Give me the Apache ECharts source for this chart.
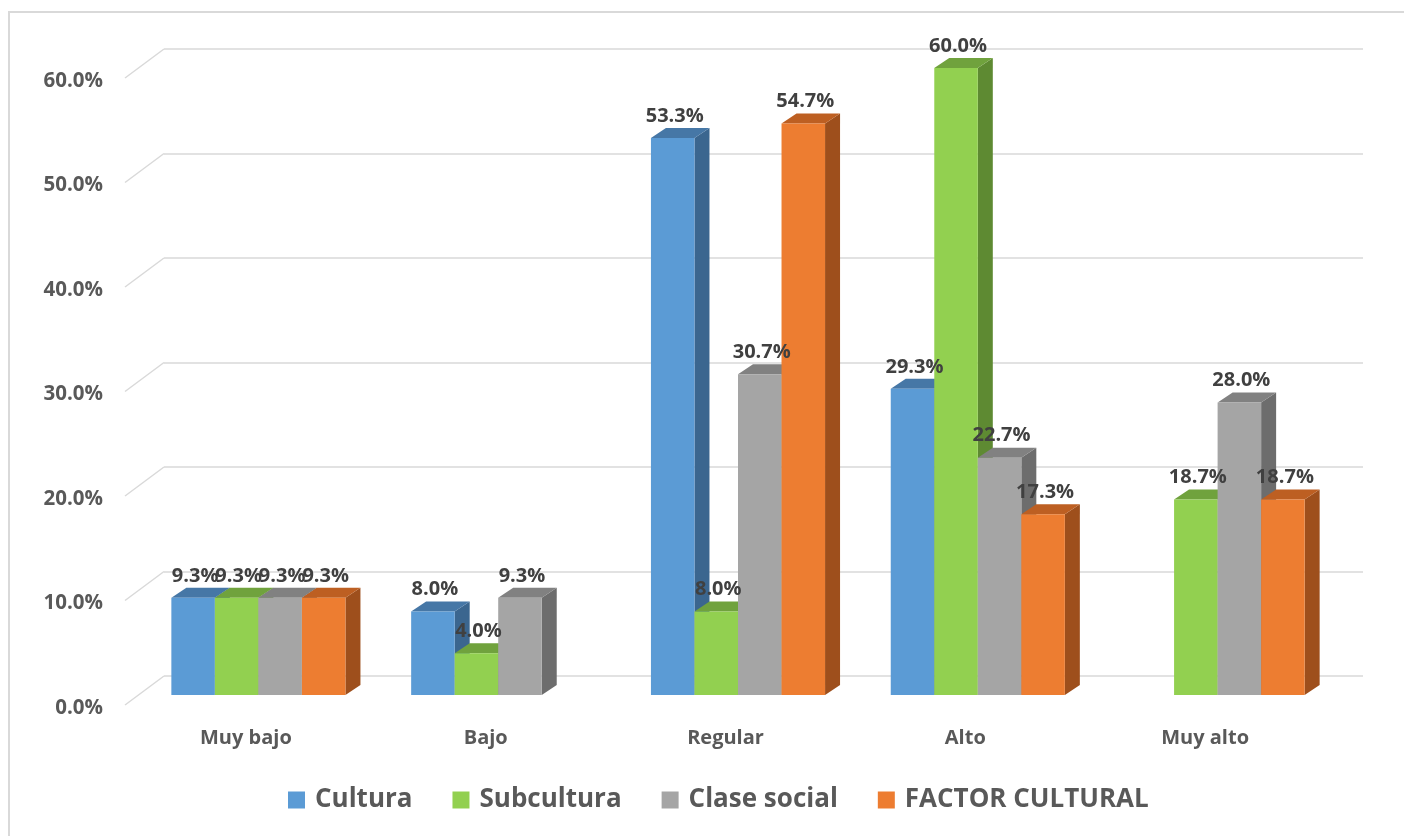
<!DOCTYPE html>
<html>
<head>
<meta charset="utf-8">
<script src="https://cdn.jsdelivr.net/npm/echarts@6/dist/echarts.min.js"></script>
<style>
  html, body { margin: 0; padding: 0; background: #ffffff; }
  #chart { width: 1404px; height: 836px; }
</style>
</head>
<body>
<div id="chart"></div>
<script>
// datos (porcentajes)
const categories = ["Muy bajo", "Bajo", "Regular", "Alto", "Muy alto"];
const seriesNames = ["Cultura", "Subcultura", "Clase social", "FACTOR CULTURAL"];
const cultura = [9.3, 8.0, 53.3, 29.3, 0];
const subcultura = [9.3, 4.0, 8.0, 60.0, 18.7];
const claseSocial = [9.3, 9.3, 30.7, 22.7, 28.0];
const factorCultural = [9.3, 0, 54.7, 17.3, 18.7];
const yTicks = [0, 10, 20, 30, 40, 50, 60];

const allValues = [cultura, subcultura, claseSocial, factorCultural];

// colores: frente, tapa, lado
const palette = [
  { front: "#5b9bd5", top: "#4677a6", side: "#3b668f" },
  { front: "#92d050", top: "#70a23d", side: "#5e8a32" },
  { front: "#a5a5a5", top: "#818181", side: "#6d6d6d" },
  { front: "#ed7d31", top: "#bd5f22", side: "#9e4f1c" }
];

// efecto 3D: desplazamiento de la cara frontal y profundidad de la barra
const FRONT_DX = -25.5, FRONT_DY = 19;
const DEPTH_DX = 15, DEPTH_DY = -10;
const WALL_DX = 39, WALL_DY = 29;

const myChart = echarts.init(document.getElementById("chart"));

function barRenderer(k) {
  return function (params, api) {
    const ci = api.value(0);
    const v = api.value(1);
    if (!v) return;
    const base = api.coord([ci, 0]);
    const top = api.coord([ci, v]);
    const band = api.size([1, 0])[0];
    const w = band * 0.1815;
    const cx = base[0] + FRONT_DX;
    const x0 = cx - 2 * w + k * w;
    const x1 = x0 + w;
    const yb = base[1] + FRONT_DY;
    const yt = top[1] + FRONT_DY;
    const c = palette[k];
    return {
      type: "group",
      children: [
        {
          type: "polygon",
          shape: { points: [[x1, yt], [x1 + DEPTH_DX, yt + DEPTH_DY], [x1 + DEPTH_DX, yb + DEPTH_DY], [x1, yb]] },
          style: { fill: c.side }
        },
        {
          type: "polygon",
          shape: { points: [[x0, yt], [x1, yt], [x1 + DEPTH_DX, yt + DEPTH_DY], [x0 + DEPTH_DX, yt + DEPTH_DY]] },
          style: { fill: c.top }
        },
        {
          type: "rect",
          shape: { x: x0, y: yt, width: w, height: yb - yt },
          style: { fill: c.front }
        },
        {
          type: "text",
          z2: 100,
          style: {
            x: (x0 + x1) / 2 + 2,
            y: yt + DEPTH_DY - 12,
            text: v.toFixed(1) + "%",
            fill: "#404040",
            font: "bold 20px 'Open Sans'",
            align: "center",
            verticalAlign: "middle"
          }
        }
      ]
    };
  };
}

// lineas diagonales de la pared lateral y etiquetas del eje en el plano frontal
function wallRenderer(params, api) {
  const t = api.value(0);
  const p = api.coord([0, t]);
  const cs = params.coordSys;
  return {
    type: "group",
    children: [
      {
        type: "line",
        shape: { x1: cs.x - WALL_DX, y1: p[1] + WALL_DY, x2: cs.x, y2: p[1] },
        style: { stroke: "#d9d9d9", lineWidth: 1.5 }
      },
      {
        type: "text",
        style: {
          x: cs.x - WALL_DX - 22,
          y: p[1] + WALL_DY + 3,
          text: t.toFixed(1) + "%",
          fill: "#595959",
          font: "bold 20.5px 'Open Sans'",
          align: "right",
          verticalAlign: "middle"
        }
      }
    ]
  };
}

const series = seriesNames.map(function (name, k) {
  return {
    name: name,
    type: "custom",
    renderItem: barRenderer(k),
    itemStyle: { color: palette[k].front },
    encode: { x: 0, y: 1 },
    data: allValues[k].map(function (v, i) { return [i, v]; }),
    z: 3
  };
});

series.push({
  name: "pared",
  type: "custom",
  renderItem: wallRenderer,
  silent: true,
  encode: { y: 0 },
  data: yTicks.map(function (t) { return [t]; }),
  z: 1
});

myChart.setOption({
  animation: false,
  graphic: [
    {
      type: "rect",
      shape: { x: 9, y: 12, width: 1420, height: 850 },
      style: { fill: "none", stroke: "#d9d9d9", lineWidth: 2 },
      silent: true
    }
  ],
  grid: { left: 164, right: 41, top: 49, bottom: 160 },
  legend: {
    data: seriesNames,
    bottom: 18,
    left: 283,
    icon: "rect",
    itemWidth: 17,
    itemHeight: 17,
    itemGap: 40,
    textStyle: { fontSize: 26, fontWeight: "bold", color: "#595959", fontFamily: "Open Sans", padding: [0, 0, 0, 5] }
  },
  xAxis: {
    type: "category",
    data: categories,
    axisLine: { show: false },
    axisTick: { show: false },
    axisLabel: {
      margin: 52,
      padding: [0, 76, 0, 0],
      fontSize: 20,
      fontWeight: "bold",
      color: "#595959",
      fontFamily: "Open Sans"
    }
  },
  yAxis: {
    type: "value",
    min: 0,
    max: 60,
    interval: 10,
    axisLine: { show: false },
    axisTick: { show: false },
    splitLine: { lineStyle: { color: "#d9d9d9", width: 1.5 } },
    axisLabel: { show: false }
  },
  series: series
});
</script>
</body>
</html>
